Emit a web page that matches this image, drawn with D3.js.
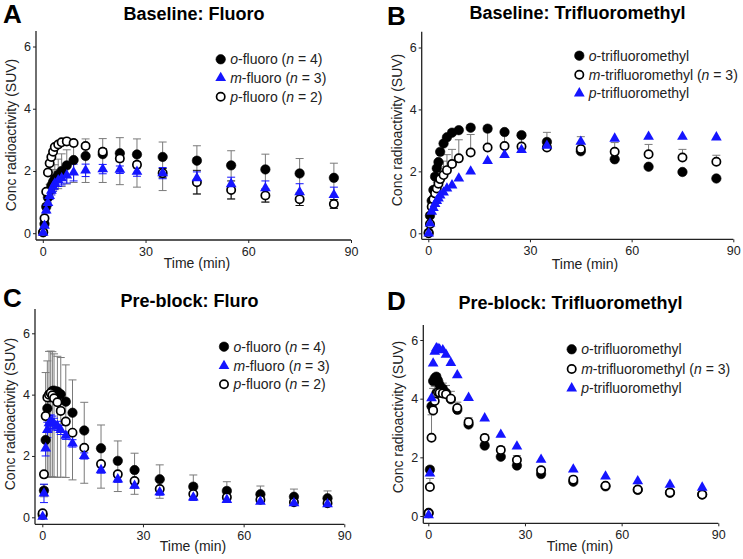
<!DOCTYPE html>
<html><head><meta charset="utf-8">
<script src="https://cdn.jsdelivr.net/npm/d3@7"></script>
<style>body{margin:0;background:#fff} svg{display:block} text{font-family:"Liberation Sans",Arial,sans-serif}</style>
</head><body><svg id="c" width="743" height="559"></svg>
<script>
// ---- data ----
const times = [0.1, 0.5, 1, 1.5, 2, 2.5, 3, 3.5, 4.5, 5.5, 7, 9, 12.5, 17.5, 22.5, 27.5, 35, 45, 55, 65, 75, 85];
const xTicks = [0, 30, 60, 90];
const yTicks = [0, 2, 4, 6];

// Panel A: Baseline fluoro
const aO   = [0.03, 0.3, 0.85, 1.15, 1.37, 1.53, 1.65, 1.75, 1.88, 2.0, 2.18, 2.35, 2.48, 2.54, 2.57, 2.53, 2.45, 2.33, 2.18, 2.05, 1.92, 1.78];
const aOUp = [0, 0.05, 0.1, 0.15, 0.2, 0.3, 0.4, 0.45, 0.5, 0.55, 0.5, 0.5, 0.55, 0.5, 0.5, 0.5, 0.48, 0.48, 0.47, 0.49, 0.48, 0.47];
const aODn = [0, 0.05, 0.1, 0.15, 0.2, 0.25, 0.3, 0.35, 0.45, 0.5, 0.6, 0.72, 0.85, 0.91, 1.01, 1.05, 1.08, 1.07, 1.08, 1.05, 1.03, 0.98];
const aM   = [0.02, 0.24, 0.73, 0.97, 1.2, 1.37, 1.5, 1.6, 1.7, 1.77, 1.86, 1.95, 2.02, 2.06, 2.04, 1.98, 1.93, 1.77, 1.58, 1.45, 1.32, 1.23];
const aMSd = [0, 0.05, 0.08, 0.1, 0.12, 0.14, 0.15, 0.17, 0.2, 0.22, 0.25, 0.27, 0.2, 0.15, 0.12, 0.15, 0.18, 0.2, 0.22, 0.23, 0.27, 0.25];
const aP   = [0.03, 0.48, 1.33, 1.95, 2.25, 2.45, 2.62, 2.77, 2.85, 2.92, 2.95, 2.9, 2.8, 2.62, 2.4, 2.2, 1.93, 1.64, 1.39, 1.21, 1.09, 0.94];
const aPSd = [0, 0.03, 0.05, 0.05, 0.05, 0.05, 0.05, 0.05, 0.05, 0.05, 0.05, 0.05, 0.08, 0.1, 0.1, 0.1, 0.15, 0.38, 0.29, 0.21, 0.2, 0.14];

// Panel B: Baseline trifluoromethyl
const bO   = [0.02, 0.57, 1.05, 1.4, 1.83, 2.1, 2.3, 2.63, 2.9, 3.1, 3.25, 3.33, 3.41, 3.38, 3.27, 3.17, 2.95, 2.65, 2.39, 2.15, 1.98, 1.77];
const bM   = [0.0, 0.3, 0.86, 1.1, 1.29, 1.45, 1.6, 1.75, 1.88, 2.04, 2.24, 2.42, 2.61, 2.77, 2.82, 2.8, 2.77, 2.72, 2.63, 2.55, 2.45, 2.31];
const bMSd = [0, 0.05, 0.1, 0.1, 0.15, 0.2, 0.3, 0.4, 0.45, 0.5, 0.47, 0.6, 0.58, 0.51, 0.43, 0.45, 0.49, 0.4, 0.3, 0.32, 0.26, 0.21];
const bP   = [0.0, 0.32, 0.7, 0.82, 0.95, 1.05, 1.13, 1.22, 1.32, 1.45, 1.55, 1.77, 2.0, 2.34, 2.53, 2.69, 2.83, 2.96, 3.06, 3.12, 3.12, 3.1];

// Panel C: Pre-block fluoro
const cO   = [0.08, 0.87, 2.52, 3.55, 3.91, 4.04, 4.12, 4.13, 4.1, 4.01, 3.77, 3.41, 2.83, 2.25, 1.84, 1.54, 1.24, 1.0, 0.86, 0.75, 0.67, 0.62];
const cOUp = [0, 0.2, 2.2, 1.55, 1.5, 1.38, 1.28, 1.2, 1.15, 1.2, 1.2, 1.07, 0.92, 0.76, 0.65, 0.55, 0.47, 0.38, 0.3, 0.27, 0.25, 0.24];
const cODn = [0, 0.2, 1.2, 2.25, 2.6, 2.72, 2.8, 2.82, 2.8, 2.7, 2.47, 2.19, 1.72, 1.3, 1.0, 0.79, 0.62, 0.43, 0.35, 0.3, 0.25, 0.22];
const cM   = [0.02, 0.78, 2.25, 2.85, 3.07, 3.12, 3.1, 3.05, 2.98, 2.85, 2.66, 2.41, 2.0, 1.54, 1.24, 1.03, 0.82, 0.65, 0.57, 0.51, 0.46, 0.43];
const cMSd = [0, 0.3, 0.25, 0.25, 0.25, 0.22, 0.2, 0.18, 0.15, 0.15, 0.12, 0.12, 0.1, 0.1, 0.1, 0.08, 0.1, 0.1, 0.08, 0.06, 0.06, 0.06];
const cP   = [0.13, 1.4, 3.3, 3.91, 4.0, 4.05, 3.98, 3.88, 3.75, 3.47, 3.12, 2.76, 2.27, 1.74, 1.4, 1.18, 0.92, 0.76, 0.65, 0.57, 0.49, 0.46];
const cPSd = [0.05, 0.05, 0.05, 0.05, 0.05, 0.05, 0.05, 0.05, 0.05, 0.05, 0.05, 0.05, 0.05, 0.05, 0.05, 0.05, 0.05, 0.05, 0.05, 0.05, 0.05, 0.05];

// Panel D: Pre-block trifluoromethyl
const dO   = [0.11, 1.58, 3.74, 4.6, 4.7, 4.75, 4.62, 4.47, 4.34, 4.2, 3.98, 3.62, 3.12, 2.4, 2.02, 1.72, 1.43, 1.17, 1.01, 0.89, 0.79, 0.73];
const dM   = [0.09, 0.99, 2.67, 3.6, 3.92, 4.18, 4.22, 4.2, 4.18, 4.15, 4.0, 3.68, 3.2, 2.66, 2.25, 1.91, 1.56, 1.24, 1.03, 0.9, 0.8, 0.73];
const dMSd = [0.02, 0.29, 0.78, 0.75, 0.5, 0.45, 0.45, 0.4, 0.35, 0.3, 0.25, 0.2, 0.15, 0.12, 0.12, 0.15, 0.1, 0.08, 0.06, 0.05, 0.05, 0.04];
const dP   = [0.03, 1.45, 4.02, 5.2, 5.6, 5.72, 5.7, 5.68, 5.65, 5.5, 5.22, 4.8, 4.03, 3.33, 2.77, 2.37, 1.92, 1.59, 1.35, 1.19, 1.07, 0.97];

const fluoroLegend = [
  {kind:"filled", parts:[["o",1],["-fluoro (",0],["n",1],[" = 4)",0]]},
  {kind:"tri",    parts:[["m",1],["-fluoro (",0],["n",1],[" = 3)",0]]},
  {kind:"open",   parts:[["p",1],["-fluoro (",0],["n",1],[" = 2)",0]]}
];
const tfmLegend = [
  {kind:"filled", parts:[["o",1],["-trifluoromethyl",0]]},
  {kind:"open",   parts:[["m",1],["-trifluoromethyl (",0],["n",1],[" = 3)",0]]},
  {kind:"tri",    parts:[["p",1],["-trifluoromethyl",0]]}
];

// ---- layout ----
const BLUE = "#1515ff", GRAY = "#7a7a7a";
const panels = [
  {letter:"A", lx:3, ly:23, title:"Baseline: Fluoro", tx:194, ty:20,
   x0:42.8, x90:351, y0:233.2, y6:46.5, yTop:31, axX:36, axY:240,
   ylx:11, yly:135, xlx:197, xly:268, legX:220.7, legY:[59.3,78,96.7], legend:fluoroLegend,
   series:[
     {vals:aO, up:aOUp, dn:aODn, col:GRAY, kind:"filled"},
     {vals:aP, up:aPSd, dn:aPSd, col:"#111", kind:"open"},
     {vals:aM, up:aMSd, dn:aMSd, col:BLUE, kind:"tri"}]},
  {letter:"B", lx:387, ly:25, title:"Baseline: Trifluoromethyl", tx:577.5, ty:19,
   x0:428.3, x90:733.3, y0:233.3, y6:47.5, yTop:31.7, axX:421.7, axY:239.3,
   ylx:397, yly:130, xlx:585, xly:269, legX:579.3, legY:[55.7,74.7,93.3], legend:tfmLegend,
   series:[
     {vals:bO, kind:"filled"},
     {vals:bM, up:bMSd, col:GRAY, kind:"open"},
     {vals:bP, kind:"tri"}]},
  {letter:"C", lx:3, ly:307, title:"Pre-block: Fluro", tx:189.5, ty:307,
   x0:42.3, x90:344.3, y0:517.3, y6:333.3, yTop:309, axX:35, axY:524.3,
   ylx:10, yly:414, xlx:193, xly:551, legX:224, legY:[346.7,366,384.3], legend:fluoroLegend,
   series:[
     {vals:cO, up:cOUp, dn:cODn, col:GRAY, kind:"filled"},
     {vals:cP, up:cPSd, dn:cPSd, col:"#111", kind:"open"},
     {vals:cM, up:cMSd, dn:cMSd, col:BLUE, kind:"tri"}]},
  {letter:"D", lx:387, ly:310, title:"Pre-block: Trifluoromethyl", tx:570.5, ty:309,
   x0:428.3, x90:718.3, y0:516, y6:340, yTop:325, axX:423.3, axY:523.3,
   ylx:398, yly:417, xlx:580, xly:551, legX:571.7, legY:[349.3,369,388.3], legend:tfmLegend,
   series:[
     {vals:dO, kind:"filled"},
     {vals:dM, up:dMSd, col:GRAY, kind:"open"},
     {vals:dP, kind:"tri"}]}
];

const svg = d3.select("#c");
const circ = d3.symbol().type(d3.symbolCircle).size(70)();
const openC = d3.symbol().type(d3.symbolCircle).size(54)();
const tri = d3.symbol().type(d3.symbolTriangle).size(50)();

function marker(sel, kind) {
  if (kind === "filled") sel.attr("d", circ).attr("fill", "#000").attr("stroke", "#000").attr("stroke-width", 0.6);
  else if (kind === "open") sel.attr("d", openC).attr("fill", "#fff").attr("stroke", "#000").attr("stroke-width", 1.7);
  else sel.attr("d", tri).attr("fill", BLUE);
}

panels.forEach(p => {
  const g = svg.append("g");
  const x = d3.scaleLinear().domain([0, 90]).range([p.x0, p.x90]);
  const y = d3.scaleLinear().domain([0, 6]).range([p.y0, p.y6]);

  // axes
  const ya = g.append("g").attr("transform", `translate(${p.axX},0)`)
    .call(d3.axisLeft(y).tickValues(yTicks).tickFormat(d3.format("d")).tickSize(3).tickPadding(2));
  ya.select(".domain").remove();
  ya.append("line").attr("x1", 0).attr("x2", 0).attr("y1", p.yTop).attr("y2", p.axY)
    .attr("stroke", "#222").attr("stroke-width", 1.3);
  const xa = g.append("g").attr("transform", `translate(0,${p.axY})`)
    .call(d3.axisBottom(x).tickValues(xTicks).tickFormat(d3.format("d")).tickSize(3).tickPadding(4));
  xa.select(".domain").remove();
  xa.append("line").attr("x1", p.axX).attr("x2", p.x90).attr("y1", 0).attr("y2", 0)
    .attr("stroke", "#222").attr("stroke-width", 1.3);
  g.selectAll(".tick line").attr("stroke", "#222");
  g.selectAll(".tick text").attr("font-size", 12.5).attr("fill", "#222")
    .attr("font-family", "'Liberation Sans',Arial,sans-serif");

  // labels
  g.append("text").attr("x", p.lx).attr("y", p.ly).text(p.letter)
    .attr("font-size", 26).attr("font-weight", "bold").attr("fill", "#000");
  g.append("text").attr("x", p.tx).attr("y", p.ty).text(p.title).attr("text-anchor", "middle")
    .attr("font-size", 18).attr("font-weight", "bold").attr("fill", "#000");
  g.append("text").attr("transform", `translate(${p.ylx},${p.yly}) rotate(-90)`).attr("dy", "0.35em")
    .attr("text-anchor", "middle").attr("font-size", 14).attr("fill", "#222").text("Conc radioactivity (SUV)");
  g.append("text").attr("x", p.xlx).attr("y", p.xly).attr("text-anchor", "middle")
    .attr("font-size", 14).attr("fill", "#222").text("Time (min)");

  // error bars
  p.series.forEach(s => {
    if (!s.up) return;
    times.forEach((t, i) => {
      const v = s.vals[i], hi = v + s.up[i], lo = v - (s.dn ? s.dn[i] : 0);
      if (hi - lo <= 0.001) return;
      const cx = x(t), eg = g.append("g").attr("stroke", s.col).attr("stroke-width", 1);
      eg.append("line").attr("x1", cx).attr("x2", cx).attr("y1", y(hi)).attr("y2", y(lo));
      eg.append("line").attr("x1", cx - 4).attr("x2", cx + 4).attr("y1", y(hi)).attr("y2", y(hi));
      if (s.dn) eg.append("line").attr("x1", cx - 4).attr("x2", cx + 4).attr("y1", y(lo)).attr("y2", y(lo));
    });
  });
  // markers
  p.series.forEach(s => {
    g.append("g").selectAll("path").data(times.map((t, i) => [t, s.vals[i]])).join("path")
      .attr("transform", d => `translate(${x(d[0])},${y(d[1])})`)
      .call(sel => marker(sel, s.kind));
  });

  // legend
  p.legend.forEach((L, i) => {
    g.append("path").attr("transform", `translate(${p.legX},${p.legY[i]})`).call(sel => marker(sel, L.kind));
    const t = g.append("text").attr("x", p.legX + 9.5).attr("y", p.legY[i] + 5)
      .attr("font-size", 14).attr("fill", "#222");
    L.parts.forEach(pt => t.append("tspan").text(pt[0]).attr("font-style", pt[1] ? "italic" : "normal"));
  });
});
</script></body></html>
